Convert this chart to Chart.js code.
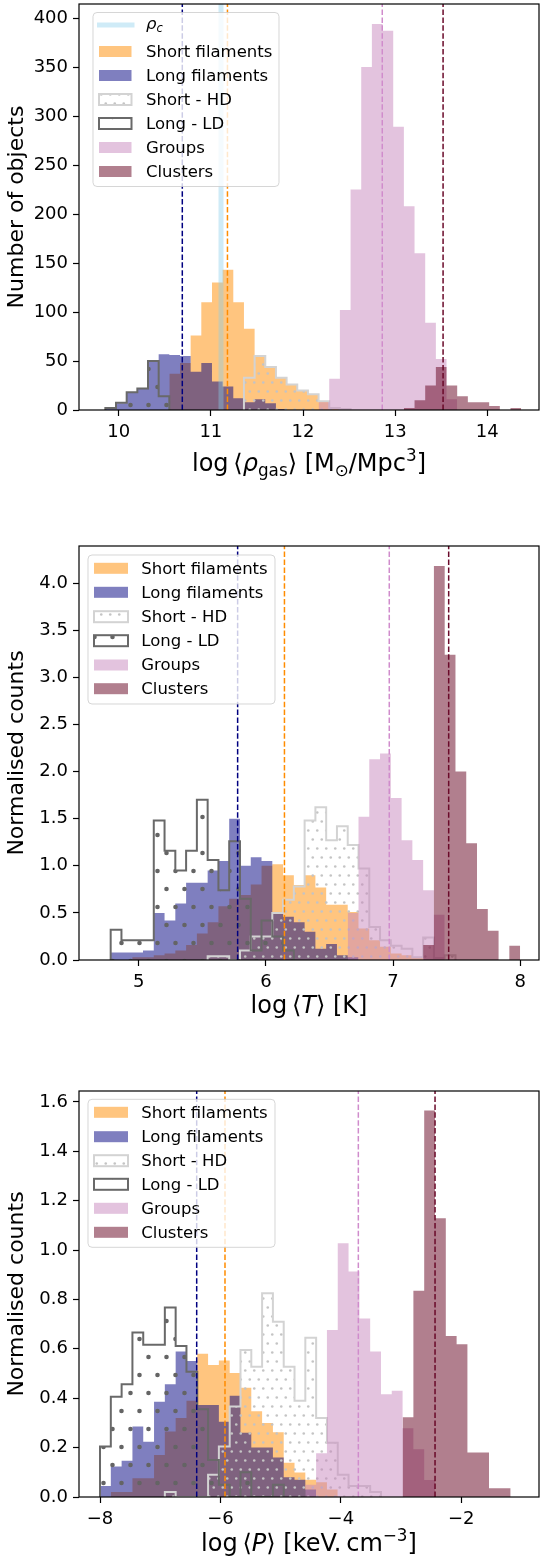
<!DOCTYPE html>
<html>
<head>
<meta charset="utf-8">
<script src="https://cdn.jsdelivr.net/npm/chart.js@4.4.0/dist/chart.umd.min.js"></script>
<style>
  body { margin: 0; background: #fff; }
  #wrap { position: relative; width: 540px; height: 1562px; }
  canvas { position: absolute; left: 0; }
</style>
</head>
<body>
<div id="wrap">
  <canvas id="c1" width="540" height="520" style="top:0px"></canvas>
  <canvas id="c2" width="540" height="540" style="top:520px"></canvas>
  <canvas id="c3" width="540" height="502" style="top:1060px"></canvas>
</div>
<script>
// ---------- panel 1 : log <rho_gas> (counts per bin) ----------
const rhoEdge0 = 9.855, rhoBinW = 0.1157;
const rhoShort    = [0,0,0,0,0,0, 37,48,76,110,130,143,110, 83,55,44,33,26,20,16, 9,2,1, 0,0,0,0,0,0,0,0,0,0,0,0,0,0,0,0];
const rhoLong     = [2,7,18,22,50, 57,56,55,39,48,29,24, 12,8,11,7,1, 0,0,0,0,0,0,0,0,0,0,0,0,0,0,0,0,0,0,0,0,0,0];
const rhoShortHD  = [0,0,0,0,0,0,0,0,0,0,0,0,0, 33,55,44,33,26,20,16,9,2,1, 0,0,0,0,0,0,0,0,0,0,0,0,0,0,0,0];
const rhoLongLD   = [2,7.5,18,22,50,14, 0,0,0,0,0,0,0,0,0,0,0,0,0,0,0,0,0,0,0,0,0,0,0,0,0,0,0,0,0,0,0,0,0];
const rhoGroups   = [0,0,0,0,0,0,0,0,0,0,0,0,0,0,0,0,0,0,0,0, 8,32,102,225,350,394,387,289,208,160,89,52,11, 0,0,0,0,0,0];
const rhoClusters = [0,0,0,0,0,0,0,0,0,0,0,0,0,0,0,0,0,0,0,0,0,0,0,0,0,0,0,0, 2,10,25,44,25,14,8,8,4,0,2];
const rhoMeans = [10.69, 11.18, 12.86, 13.52];   // long, short, groups, clusters
const rhoCrit = 11.11;
const rhoXTicks = [10, 11, 12, 13, 14];
const rhoYTicks = [0, 50, 100, 150, 200, 250, 300, 350, 400];

// ---------- panel 2 : log <T> (normalised) ----------
const tEdge0 = 4.78, tBinW = 0.0847;
const tShort    = [0,0, .03,.03,.05,.07,.10,.16,.28,.40,.57,.65,.69, .80,1.0,1.015,.90,.795,.90,.77,.585,.585,.51,.335,.21,.14,.07,.05,.02, 0,0,0,0,0,0,0,0,0];
const tLong     = [.08,.08,.08,.10,.50,.42,.60,.82,.82,.95,1.05,1.50,1.00,1.09,1.05,.50,.46,.40,.30,.12,.17,.05,.03, 0,0,0,0,0,0,0,0,0,0,0,0,0,0,0];
const tShortHD  = [0,0,0,0,0,0,0,0,0, .04,.04,0,.10,.25,.25,.50,.64,.78,1.48,1.62,1.27,1.42,1.22,.97,.35,.21,.15,.12,.03,.24,.02,.05, 0,0,0,0,0,0];
const tLongLD   = [.32,.21,.21,.21,1.48,1.16,.95,1.16,1.70,1.06,.74,1.26,.65,.10,.42,.25,.10, 0,0,0,0,0,0,0,0,0,0,0,0,0,0,0,0,0,0,0,0,0];
const tGroups   = [0,0,0,0,0,0,0,0,0,0,0,0,0,0,0,0,0,0,0,0,0,0, .5,1.52,2.13,2.19,1.72,1.27,1.06,.74,.48, 0,0,0,0,0,0,0];
const tClusters = [0,0,0,0,0,0,0,0,0,0,0,0,0,0,0,0,0,0,0,0,0,0,0,0,0,0,0,0,0, .16,4.18,3.24,2.0,1.24,.54,.31,0,.15];
const tMeans = [5.778, 6.146, 6.97, 7.437];
const tXTicks = [5, 6, 7, 8];
const tYTicks = [0, 0.5, 1, 1.5, 2, 2.5, 3, 3.5, 4];

// ---------- panel 3 : log <P> (normalised) ----------
const pEdge0 = -8.0, pBinW = 0.1795;
const pShort    = [0,.02,.02,.076,.076,.17,.265,.32,.39,.58,.535,.553,.502,.442,.347,.30,.262,.139,.099,.07,.06,.03, 0,0,0,0,0,0,0,0,0,0,0,0,0,0,0,0];
const pLong     = [.045,.123,.147,.285,.224,.386,.457,.589,.551,.373,.373,.305,.41,.26,.2,.2,.16,.08,.07,.03, 0,0,0,0,0,0,0,0,0,0,0,0,0,0,0,0,0,0];
const pShortHD  = [0,0,0,0,0,0, .02, 0,0,0, .09,.204,.366,.595,.527,.825,.71,.527,.39,.645,.32,.22,.09,.045,.045,.02, 0,0,0,0,0,0,0,0,0,0,0,0];
const pLongLD   = [.204,.406,.457,.666,.616,.616,.767,.611,.507,.355,.15,.05,0,.1,0,0,.05, 0,0,0,0,0,0,0,0,0,0,0,0,0,0,0,0,0,0,0,0,0];
const pGroups   = [0,0,0,0,0,0,0,0,0,0,0,0,0,0,0,0,0,0,0, .05,.177,.676,1.028,.913,.723,.589,.416,.43,.278,.193,.069, 0,0,0,0,0,0,0];
const pClusters = [0,0,0,0,0,0,0,0,0,0,0,0,0,0,0,0,0,0,0,0,0,0,0,0,0,0,0,0, .323,.835,1.565,1.129,.652,.619,.18,.18,.035,.035];
const pMeans = [-6.394, -5.924, -3.709, -2.435];
const pXTicks = [-8, -6, -4, -2];
const pYTicks = [0, 0.2, 0.4, 0.6, 0.8, 1.0, 1.2, 1.4, 1.6];

const legendNames = ['Short filaments', 'Long filaments', 'Short - HD', 'Long - LD', 'Groups', 'Clusters'];

const FONT = 'DejaVu Sans';
const TICK_SIZE = 18, TITLE_SIZE = 24, YTITLE_SIZE = 22, LEG_SIZE = 16.5;
const SHORT_C = 'rgba(255,140,0,0.5)';
const LONG_C = 'rgba(0,0,128,0.5)';
const GROUPS_C = 'rgba(200,135,190,0.5)';
const CLUSTERS_C = 'rgba(100,0,30,0.5)';
const HD_EDGE = '#d3d3d3', LD_EDGE = '#696969';
const MEAN_COLS = ['#000080', '#ff8c00', '#d08ccc', '#6a0a2a'];
const RHOC_C = 'rgba(135,206,235,0.4)';

Chart.defaults.font.family = FONT;
Chart.defaults.color = '#000';

function dotPattern(ctx, w, h, dots, r, color) {
  const c = document.createElement('canvas');
  c.width = w; c.height = h;
  const g = c.getContext('2d');
  g.fillStyle = color;
  dots.forEach(([x, y]) => { g.beginPath(); g.arc(x, y, r, 0, 2 * Math.PI); g.fill(); });
  return ctx.createPattern(c, 'repeat');
}

// histogram -> points on bin edges, drawn as a stepped line
function stepPoints(e0, w, counts) {
  const s = counts.findIndex(v => v > 0);
  let e = counts.length - 1;
  while (e > s && counts[e] === 0) e--;
  const pts = [{ x: e0 + s * w, y: 0 }];
  for (let k = s; k <= e; k++) pts.push({ x: e0 + k * w, y: counts[k] });
  pts.push({ x: e0 + (e + 1) * w, y: 0 });
  return pts;
}

function drawMath(ctx, segs, cx, baseY, size) {
  let total = 0;
  const widths = segs.map(([t, sc, dy, it]) => {
    ctx.font = (it ? 'italic ' : '') + (size * sc) + 'px ' + FONT;
    const w = ctx.measureText(t).width;
    total += w;
    return w;
  });
  let x = cx - total / 2;
  ctx.textAlign = 'left';
  ctx.textBaseline = 'alphabetic';
  ctx.fillStyle = '#000';
  segs.forEach(([t, sc, dy, it], i) => {
    ctx.font = (it ? 'italic ' : '') + (size * sc) + 'px ' + FONT;
    ctx.fillText(t, x, baseY + dy * size);
    x += widths[i];
  });
}

function drawLegend(ctx, L, hdPat, ldPat) {
  ctx.save();
  ctx.beginPath();
  ctx.roundRect(L.x, L.y, L.w, L.h, 4);
  ctx.fillStyle = 'rgba(255,255,255,0.8)';
  ctx.fill();
  ctx.strokeStyle = 'rgba(204,204,204,0.8)';
  ctx.lineWidth = 1;
  ctx.stroke();
  const fills = [SHORT_C, LONG_C, null, null, GROUPS_C, CLUSTERS_C];
  let rows = L.rows.slice();
  ctx.textBaseline = 'middle';
  ctx.textAlign = 'left';
  ctx.fillStyle = '#000';
  if (L.rhoc) {
    const y = rows.shift();
    ctx.strokeStyle = RHOC_C;
    ctx.lineWidth = 5;
    ctx.beginPath();
    ctx.moveTo(L.px - 2, y); ctx.lineTo(L.px + L.pw + 3, y);
    ctx.stroke();
    ctx.fillStyle = '#000';
    ctx.font = 'italic ' + LEG_SIZE + 'px ' + FONT;
    ctx.fillText('ρ', L.tx, y);
    const w = ctx.measureText('ρ').width;
    ctx.font = 'italic 11.5px ' + FONT;
    ctx.fillText('c', L.tx + w, y + 4);
  }
  legendNames.forEach((name, i) => {
    const y = rows[i];
    const x0 = L.px, y0 = y - L.ph / 2;
    if (fills[i]) {
      ctx.fillStyle = fills[i];
      ctx.fillRect(x0, y0, L.pw, L.ph);
    } else {
      ctx.fillStyle = i === 2 ? hdPat : ldPat;
      ctx.fillRect(x0, y0, L.pw, L.ph);
      ctx.strokeStyle = i === 2 ? HD_EDGE : LD_EDGE;
      ctx.lineWidth = 2;
      ctx.strokeRect(x0, y0, L.pw, L.ph);
    }
    ctx.fillStyle = '#000';
    ctx.font = LEG_SIZE + 'px ' + FONT;
    ctx.fillText(name, L.tx, y + 1);
  });
  ctx.restore();
}

function buildPanel(id, p) {
  const canvas = document.getElementById(id);
  const ctx = canvas.getContext('2d');
  const H = canvas.height;
  const hdPat = dotPattern(ctx, 9, 18, [[2.25, 4.5], [6.75, 13.5]], 1.3, '#c4c4c4');
  const ldPat = dotPattern(ctx, 18, 36, [[4.5, 9], [13.5, 27]], 2.3, '#646464');

  const hist = (counts, fill, edge, order) => ({
    data: stepPoints(p.e0, p.w, counts),
    stepped: true,
    fill: 'origin',
    backgroundColor: fill,
    borderColor: edge || 'rgba(0,0,0,0)',
    borderWidth: edge ? 2 : 0,
    borderJoinStyle: 'miter',
    pointRadius: 0,
    order: order
  });
  const vline = (x, color, width, dash, order) => ({
    data: [{ x: x, y: 0 }, { x: x, y: p.ymax }],
    borderColor: color,
    borderWidth: width,
    borderDash: dash,
    fill: false,
    pointRadius: 0,
    order: order
  });

  const datasets = [
    hist(p.short, SHORT_C, null, 20),
    hist(p.long, LONG_C, null, 19),
    hist(p.shortHD, hdPat, HD_EDGE, 18),
    hist(p.longLD, ldPat, LD_EDGE, 17),
    hist(p.groups, GROUPS_C, null, 16),
    hist(p.clusters, CLUSTERS_C, null, 15)
  ];
  if (p.rhoc !== undefined) datasets.push(vline(p.rhoc, RHOC_C, 5, [], 10));
  p.means.forEach((m, i) => datasets.push(vline(m, MEAN_COLS[i], 1.5, [5.5, 2.4], 5 - i)));

  const deco = {
    id: 'deco' + id,
    afterDatasetsDraw(chart) {
      const a = chart.chartArea;
      const c = chart.ctx;
      c.save();
      c.strokeStyle = '#000';
      c.lineWidth = 1.2;
      c.strokeRect(a.left, a.top, a.right - a.left, a.bottom - a.top);
      c.restore();
      drawLegend(c, p.legend, hdPat, ldPat);
      c.save();
      drawMath(c, p.xtitle, (a.left + a.right) / 2, p.xtitleY, TITLE_SIZE);
      c.restore();
    }
  };

  const fix = s => { s.paddingTop = 0; s.paddingBottom = 0; s.paddingLeft = 0; s.paddingRight = 0; };

  new Chart(ctx, {
    type: 'line',
    data: { datasets },
    options: {
      responsive: false,
      animation: false,
      events: [],
      layout: { padding: { top: p.top, right: 1, left: 0, bottom: 0 } },
      plugins: { legend: { display: false }, tooltip: { enabled: false } },
      scales: {
        x: {
          type: 'linear',
          min: p.xmin, max: p.xmax,
          afterBuildTicks: s => { s.ticks = p.xticks.map(v => ({ value: v })); },
          ticks: {
            font: { size: TICK_SIZE }, padding: 6, maxRotation: 0, autoSkip: false,
            callback: v => (v < 0 ? '\u2212' + Math.abs(v) : String(v))
          },
          grid: { drawOnChartArea: false, tickLength: 6, tickWidth: 1.2, color: '#000' },
          border: { display: false },
          afterFit: s => { s.height = H - p.bottom; fix(s); }
        },
        y: {
          type: 'linear',
          min: 0, max: p.ymax,
          afterBuildTicks: s => { s.ticks = p.yticks.map(v => ({ value: v })); },
          ticks: {
            font: { size: TICK_SIZE }, padding: 5,
            callback: v => v.toFixed(p.ydec)
          },
          grid: { drawOnChartArea: false, tickLength: 6, tickWidth: 1.2, color: '#000' },
          border: { display: false },
          title: { display: true, text: p.ytitle, font: { size: YTITLE_SIZE }, padding: { top: 4, bottom: 0 } },
          afterFit: s => { s.width = 79; fix(s); }
        }
      }
    },
    plugins: [deco]
  });
}

buildPanel('c1', {
  e0: rhoEdge0, w: rhoBinW,
  short: rhoShort, long: rhoLong, shortHD: rhoShortHD, longLD: rhoLongLD, groups: rhoGroups, clusters: rhoClusters,
  means: rhoMeans, rhoc: rhoCrit,
  xmin: 9.569, xmax: 14.561, ymax: 414.3, xticks: rhoXTicks, yticks: rhoYTicks, ydec: 0,
  top: 4, bottom: 410,
  ytitle: 'Number of objects',
  xtitle: [['log', 1, 0, 0], ['\u2009\u27e8', 1, 0, 0], ['ρ', 1, 0, 1], ['gas', 0.7, 0.2, 0], ['\u27e9', 1, 0, 0],
           [' [M', 1, 0, 0], ['\u2299', 0.7, 0.2, 0], ['/Mpc', 1, 0, 0], ['3', 0.7, -0.42, 0], [']', 1, 0, 0]],
  xtitleY: 471,
  legend: { x: 93, y: 12.5, w: 186, h: 174, px: 99, pw: 32.5, ph: 11, tx: 146, rhoc: true,
            rows: [25, 51.5, 75.5, 99.5, 123.5, 147.5, 171.5] }
});

buildPanel('c2', {
  e0: tEdge0, w: tBinW,
  short: tShort, long: tLong, shortHD: tShortHD, longLD: tLongLD, groups: tGroups, clusters: tClusters,
  means: tMeans,
  xmin: 4.531, xmax: 8.147, ymax: 4.393, xticks: tXTicks, yticks: tYTicks, ydec: 1,
  top: 26, bottom: 440,
  ytitle: 'Normalised counts',
  xtitle: [['log', 1, 0, 0], ['\u2009\u27e8', 1, 0, 0], ['T', 1, 0, 1], ['\u27e9', 1, 0, 0], [' [K]', 1, 0, 0]],
  xtitleY: 493,
  legend: { x: 88, y: 35, w: 187, h: 149, px: 94, pw: 34, ph: 11, tx: 141.3, rhoc: false,
            rows: [48.3, 72.3, 96.7, 120.7, 145, 168.7] }
});

buildPanel('c3', {
  e0: pEdge0, w: pBinW,
  short: pShort, long: pLong, shortHD: pShortHD, longLD: pLongLD, groups: pGroups, clusters: pClusters,
  means: pMeans,
  xmin: -8.349, xmax: -0.708, ymax: 1.644, xticks: pXTicks, yticks: pYTicks, ydec: 1,
  top: 31, bottom: 437,
  ytitle: 'Normalised counts',
  xtitle: [['log', 1, 0, 0], ['\u2009\u27e8', 1, 0, 0], ['P', 1, 0, 1], ['\u27e9', 1, 0, 0],
           [' [keV.\u2009cm', 1, 0, 0], ['\u22123', 0.7, -0.42, 0], [']', 1, 0, 0]],
  xtitleY: 491,
  legend: { x: 88, y: 39.3, w: 187, h: 148, px: 94, pw: 34, ph: 11, tx: 141.3, rhoc: false,
            rows: [52.3, 76.7, 100.7, 124.3, 148.3, 172.3] }
});
</script>
</body>
</html>
